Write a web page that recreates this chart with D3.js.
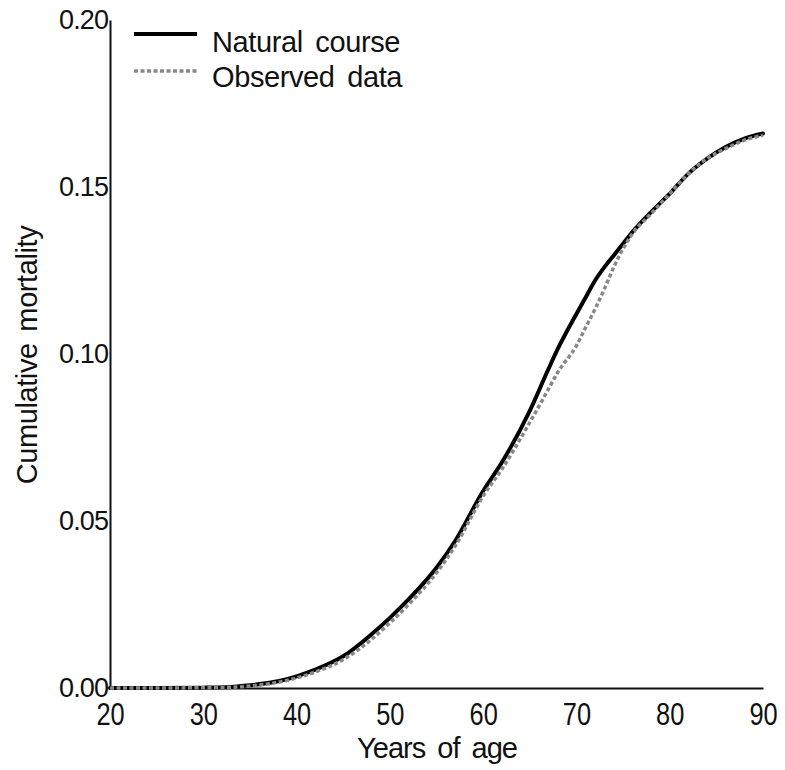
<!DOCTYPE html>
<html>
<head>
<meta charset="utf-8">
<script src="https://cdn.jsdelivr.net/npm/d3@7"></script>
<style>
  html, body { margin: 0; padding: 0; background: #fff; }
  svg { display: block; font-family: "Liberation Sans", Arial, Helvetica, sans-serif; }
</style>
</head>
<body>
<svg id="chart" width="785" height="770"></svg>
<script>
// ---- data ----
const ages = [20, 25, 30, 33, 35, 38, 40, 42, 45, 48, 50, 52, 55, 57, 60, 62, 65, 67, 68, 70, 71, 72, 73, 74, 75, 76, 78, 80, 82, 84, 86, 88, 90];
const naturalCourse = [0, 0, 0.0001, 0.0003, 0.0008, 0.002, 0.0035, 0.0055, 0.0095, 0.016, 0.021, 0.0265, 0.036, 0.044, 0.059, 0.0675, 0.083, 0.0955, 0.1015, 0.112, 0.117, 0.122, 0.126, 0.1295, 0.133, 0.1365, 0.1425, 0.148, 0.154, 0.1585, 0.162, 0.1645, 0.166];
const observedData = [0, 0, 0.0001, 0.0002, 0.0006, 0.0017, 0.003, 0.0048, 0.0085, 0.0145, 0.0195, 0.025, 0.0345, 0.0425, 0.0575, 0.0655, 0.0795, 0.0895, 0.0945, 0.1025, 0.108, 0.1135, 0.1195, 0.126, 0.1315, 0.136, 0.142, 0.148, 0.154, 0.1585, 0.1615, 0.164, 0.1655];
const xTicks = [20, 30, 40, 50, 60, 70, 80, 90];
const yTicks = [0, 0.05, 0.10, 0.15, 0.20];
const seriesNames = ["Natural course", "Observed data"];

// ---- layout ----
const svg = d3.select("#chart");
const mLeft = 110, mRight = 763, mTop = 20, mBottom = 688;
const x = d3.scaleLinear().domain([20, 90]).range([mLeft, mRight]);
const y = d3.scaleLinear().domain([0, 0.20]).range([mBottom, mTop]);

// axes
const xAxis = d3.axisBottom(x).tickValues(xTicks).tickSize(0).tickFormat(d3.format("d"));
const yAxis = d3.axisLeft(y).tickValues(yTicks).tickSize(0).tickPadding(2).tickFormat(d3.format(".2f"));

const gx = svg.append("g").attr("transform", `translate(0,${mBottom})`).call(xAxis);
gx.select(".domain").attr("stroke", "#111").attr("stroke-width", 2);
gx.selectAll("text").attr("font-size", 31).attr("fill", "#111")
  .attr("font-family", "'Liberation Sans', Arial, sans-serif")
  .attr("y", 26).attr("dy", "0.36em")
  .attr("transform", "scale(0.82,1)");

const gy = svg.append("g").attr("transform", `translate(${mLeft},0)`).call(yAxis);
gy.select(".domain").attr("stroke", "#111").attr("stroke-width", 2);
gy.selectAll("text").attr("font-size", 27).attr("fill", "#111")
  .attr("font-family", "'Liberation Sans', Arial, sans-serif")
  .attr("letter-spacing", "-0.9");

// lines
const line = d3.line().x((d, i) => x(ages[i])).y(d => y(d)).curve(d3.curveMonotoneX);

svg.append("path").datum(naturalCourse)
  .attr("d", line).attr("fill", "none")
  .attr("stroke", "#000").attr("stroke-width", 4).attr("stroke-linecap", "round");

svg.append("path").datum(observedData)
  .attr("d", line).attr("fill", "none")
  .attr("stroke", "#888").attr("stroke-width", 3.5).attr("stroke-dasharray", "4,2.5");

// legend
const lg = svg.append("g");
lg.append("line").attr("x1", 134).attr("x2", 197).attr("y1", 34).attr("y2", 34)
  .attr("stroke", "#000").attr("stroke-width", 4);
lg.append("line").attr("x1", 134).attr("x2", 197).attr("y1", 71).attr("y2", 71)
  .attr("stroke", "#888").attr("stroke-width", 3.5).attr("stroke-dasharray", "4,2.5");
lg.append("text").attr("x", 212).attr("y", 42).attr("dy", "0.36em").text(seriesNames[0])
  .attr("font-size", 29).attr("fill", "#111").attr("letter-spacing", "-0.4").attr("word-spacing", "5");
lg.append("text").attr("x", 212).attr("y", 77).attr("dy", "0.36em").text(seriesNames[1])
  .attr("font-size", 29).attr("fill", "#111").attr("letter-spacing", "-0.4").attr("word-spacing", "5");

// axis titles
svg.append("text").attr("x", 437).attr("y", 748).attr("dy", "0.36em")
  .attr("text-anchor", "middle").attr("font-size", 29).attr("fill", "#111")
  .attr("letter-spacing", "-1").attr("word-spacing", "5")
  .text("Years of age");
svg.append("text").attr("transform", "translate(27,355) rotate(-90)").attr("dy", "0.36em")
  .attr("text-anchor", "middle").attr("font-size", 29).attr("fill", "#111")
  .attr("letter-spacing", "-0.4").attr("word-spacing", "4")
  .text("Cumulative mortality");
</script>
</body>
</html>
